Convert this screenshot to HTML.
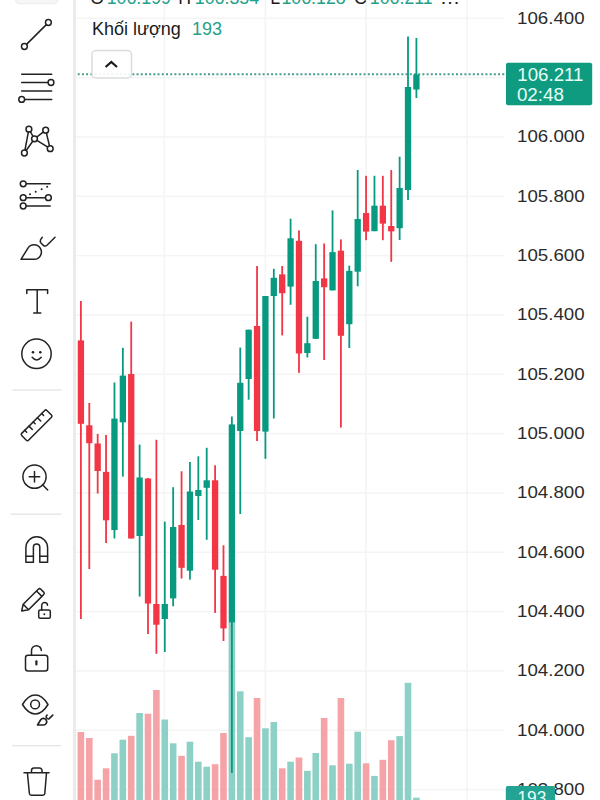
<!DOCTYPE html>
<html><head><meta charset="utf-8">
<style>
html,body{margin:0;padding:0;background:#fff;width:600px;height:800px;overflow:hidden;}
svg{display:block;font-family:"Liberation Sans",sans-serif;}
</style></head><body>
<svg width="600" height="800" viewBox="0 0 600 800">
<rect width="600" height="800" fill="#fff"/>
<g fill="#f4f4f4"><rect x="76" y="17.55" width="428" height="1.5"/><rect x="76" y="76.88" width="428" height="1.5"/><rect x="76" y="136.21" width="428" height="1.5"/><rect x="76" y="195.54" width="428" height="1.5"/><rect x="76" y="254.87" width="428" height="1.5"/><rect x="76" y="314.2" width="428" height="1.5"/><rect x="76" y="373.53" width="428" height="1.5"/><rect x="76" y="432.86" width="428" height="1.5"/><rect x="76" y="492.19" width="428" height="1.5"/><rect x="76" y="551.52" width="428" height="1.5"/><rect x="76" y="610.85" width="428" height="1.5"/><rect x="76" y="670.18" width="428" height="1.5"/><rect x="76" y="729.51" width="428" height="1.5"/><rect x="76" y="788.84" width="428" height="1.5"/><rect x="62.55" y="0" width="1.5" height="800"/><rect x="163.55" y="0" width="1.5" height="800"/><rect x="264.55" y="0" width="1.5" height="800"/><rect x="365.25" y="0" width="1.5" height="800"/><rect x="466.25" y="0" width="1.5" height="800"/></g>
<g><rect x="77.6" y="732" width="6.6" height="68" fill="#f6a3a8"/><rect x="85.99" y="738" width="6.6" height="62" fill="#f6a3a8"/><rect x="94.38" y="779.7" width="6.6" height="20.3" fill="#f6a3a8"/><rect x="102.76" y="768.3" width="6.6" height="31.7" fill="#f6a3a8"/><rect x="111.15" y="753.3" width="6.6" height="46.7" fill="#8dd0c6"/><rect x="119.54" y="739.7" width="6.6" height="60.3" fill="#8dd0c6"/><rect x="127.92" y="735.8" width="6.6" height="64.2" fill="#f6a3a8"/><rect x="136.31" y="713" width="6.6" height="87" fill="#8dd0c6"/><rect x="144.7" y="713.7" width="6.6" height="86.3" fill="#f6a3a8"/><rect x="153.09" y="690" width="6.6" height="110" fill="#f6a3a8"/><rect x="161.47" y="719.5" width="6.6" height="80.5" fill="#8dd0c6"/><rect x="169.86" y="743.3" width="6.6" height="56.7" fill="#8dd0c6"/><rect x="178.25" y="755.8" width="6.6" height="44.2" fill="#f6a3a8"/><rect x="186.64" y="741.7" width="6.6" height="58.3" fill="#8dd0c6"/><rect x="195.02" y="761.7" width="6.6" height="38.3" fill="#8dd0c6"/><rect x="203.41" y="766.7" width="6.6" height="33.3" fill="#8dd0c6"/><rect x="211.8" y="764.2" width="6.6" height="35.8" fill="#f6a3a8"/><rect x="220.19" y="733" width="6.6" height="67" fill="#f6a3a8"/><rect x="228.57" y="622" width="6.6" height="178" fill="#8dd0c6"/><rect x="236.96" y="691.3" width="6.6" height="108.7" fill="#8dd0c6"/><rect x="245.35" y="737.2" width="6.6" height="62.8" fill="#8dd0c6"/><rect x="253.74" y="698" width="6.6" height="102" fill="#f6a3a8"/><rect x="262.12" y="728.3" width="6.6" height="71.7" fill="#8dd0c6"/><rect x="270.51" y="722" width="6.6" height="78" fill="#8dd0c6"/><rect x="278.9" y="768.3" width="6.6" height="31.7" fill="#f6a3a8"/><rect x="287.29" y="761.7" width="6.6" height="38.3" fill="#8dd0c6"/><rect x="295.68" y="757.5" width="6.6" height="42.5" fill="#f6a3a8"/><rect x="304.06" y="770.8" width="6.6" height="29.2" fill="#8dd0c6"/><rect x="312.45" y="753" width="6.6" height="47" fill="#8dd0c6"/><rect x="320.84" y="718" width="6.6" height="82" fill="#f6a3a8"/><rect x="329.22" y="765.3" width="6.6" height="34.7" fill="#8dd0c6"/><rect x="337.61" y="698" width="6.6" height="102" fill="#f6a3a8"/><rect x="346" y="763.7" width="6.6" height="36.3" fill="#8dd0c6"/><rect x="354.39" y="731.7" width="6.6" height="68.3" fill="#8dd0c6"/><rect x="362.77" y="763.3" width="6.6" height="36.7" fill="#f6a3a8"/><rect x="371.16" y="775.9" width="6.6" height="24.1" fill="#8dd0c6"/><rect x="379.55" y="759.8" width="6.6" height="40.2" fill="#f6a3a8"/><rect x="387.94" y="740.2" width="6.6" height="59.8" fill="#f6a3a8"/><rect x="396.32" y="736.1" width="6.6" height="63.9" fill="#8dd0c6"/><rect x="404.71" y="682.8" width="6.6" height="117.2" fill="#8dd0c6"/><rect x="413.1" y="797.7" width="6.6" height="2.3" fill="#8dd0c6"/></g>
<line x1="77.7" y1="74.3" x2="505" y2="74.3" stroke="#4a9d8c" stroke-width="2" stroke-dasharray="2 2.2035"/>
<g><rect x="80" y="301" width="1.8" height="318" fill="#f23645"/><rect x="77.75" y="340.4" width="6.3" height="83.4" fill="#f23645"/><rect x="88.39" y="403" width="1.8" height="166" fill="#f23645"/><rect x="86.14" y="425.3" width="6.3" height="17.9" fill="#f23645"/><rect x="96.78" y="434" width="1.8" height="59.5" fill="#f23645"/><rect x="94.53" y="443.5" width="6.3" height="27.5" fill="#f23645"/><rect x="105.16" y="435" width="1.8" height="108" fill="#f23645"/><rect x="102.91" y="471.9" width="6.3" height="48.4" fill="#f23645"/><rect x="113.55" y="382.5" width="1.8" height="156" fill="#089981"/><rect x="111.3" y="418.6" width="6.3" height="111.4" fill="#089981"/><rect x="121.94" y="347.8" width="1.8" height="128.8" fill="#089981"/><rect x="119.69" y="375.6" width="6.3" height="46.7" fill="#089981"/><rect x="130.32" y="321.6" width="1.8" height="216.9" fill="#f23645"/><rect x="128.07" y="374" width="6.3" height="164.5" fill="#f23645"/><rect x="138.71" y="444.6" width="1.8" height="152" fill="#089981"/><rect x="136.46" y="477.5" width="6.3" height="58.5" fill="#089981"/><rect x="147.1" y="478" width="1.8" height="156" fill="#f23645"/><rect x="144.85" y="478.5" width="6.3" height="125" fill="#f23645"/><rect x="155.49" y="439.8" width="1.8" height="214" fill="#f23645"/><rect x="153.24" y="604" width="6.3" height="20.7" fill="#f23645"/><rect x="163.88" y="521.6" width="1.8" height="130.4" fill="#089981"/><rect x="161.62" y="604" width="6.3" height="15" fill="#089981"/><rect x="172.26" y="487.2" width="1.8" height="119.1" fill="#089981"/><rect x="170.01" y="527" width="6.3" height="71.4" fill="#089981"/><rect x="180.65" y="471.3" width="1.8" height="107.2" fill="#f23645"/><rect x="178.4" y="525" width="6.3" height="42.8" fill="#f23645"/><rect x="189.04" y="462" width="1.8" height="117.7" fill="#089981"/><rect x="186.79" y="491.5" width="6.3" height="79.2" fill="#089981"/><rect x="197.42" y="456.3" width="1.8" height="63.7" fill="#089981"/><rect x="195.17" y="490" width="6.3" height="6" fill="#089981"/><rect x="205.81" y="447.8" width="1.8" height="92" fill="#089981"/><rect x="203.56" y="480.3" width="6.3" height="7.5" fill="#089981"/><rect x="214.2" y="465.3" width="1.8" height="147.6" fill="#f23645"/><rect x="211.95" y="480.3" width="6.3" height="89.4" fill="#f23645"/><rect x="222.59" y="545.3" width="1.8" height="95.7" fill="#f23645"/><rect x="220.34" y="575.9" width="6.3" height="52.5" fill="#f23645"/><rect x="230.97" y="416.5" width="1.8" height="356.5" fill="#089981"/><rect x="228.72" y="424.4" width="6.3" height="197.9" fill="#089981"/><rect x="239.36" y="347.6" width="1.8" height="166.4" fill="#089981"/><rect x="237.11" y="382.8" width="6.3" height="48.2" fill="#089981"/><rect x="247.75" y="329.7" width="1.8" height="70" fill="#089981"/><rect x="245.5" y="329.7" width="6.3" height="49.3" fill="#089981"/><rect x="256.14" y="266" width="1.8" height="175" fill="#f23645"/><rect x="253.89" y="326" width="6.3" height="105" fill="#f23645"/><rect x="264.52" y="296" width="1.8" height="162.8" fill="#089981"/><rect x="262.27" y="296" width="6.3" height="135.6" fill="#089981"/><rect x="272.91" y="268.8" width="1.8" height="149.7" fill="#089981"/><rect x="270.66" y="277.8" width="6.3" height="18.2" fill="#089981"/><rect x="281.3" y="266" width="1.8" height="69.4" fill="#f23645"/><rect x="279.05" y="274.4" width="6.3" height="18.8" fill="#f23645"/><rect x="289.69" y="218.7" width="1.8" height="86.1" fill="#089981"/><rect x="287.44" y="238.3" width="6.3" height="48.3" fill="#089981"/><rect x="298.08" y="230.4" width="1.8" height="142.5" fill="#f23645"/><rect x="295.83" y="240.8" width="6.3" height="112.7" fill="#f23645"/><rect x="306.46" y="316.7" width="1.8" height="40.8" fill="#089981"/><rect x="304.21" y="343.2" width="6.3" height="9.8" fill="#089981"/><rect x="314.85" y="244.2" width="1.8" height="94.6" fill="#089981"/><rect x="312.6" y="281" width="6.3" height="57.8" fill="#089981"/><rect x="323.24" y="243.5" width="1.8" height="116.5" fill="#f23645"/><rect x="320.99" y="278.4" width="6.3" height="8.8" fill="#f23645"/><rect x="331.62" y="210.4" width="1.8" height="80" fill="#089981"/><rect x="329.38" y="252.1" width="6.3" height="38.3" fill="#089981"/><rect x="340.01" y="239.4" width="1.8" height="188.2" fill="#f23645"/><rect x="337.76" y="250.7" width="6.3" height="85.1" fill="#f23645"/><rect x="348.4" y="265.7" width="1.8" height="82.3" fill="#089981"/><rect x="346.15" y="270.9" width="6.3" height="53.3" fill="#089981"/><rect x="356.79" y="170" width="1.8" height="116.3" fill="#089981"/><rect x="354.54" y="219" width="6.3" height="52.7" fill="#089981"/><rect x="365.17" y="175.8" width="1.8" height="64.4" fill="#f23645"/><rect x="362.92" y="213" width="6.3" height="18.6" fill="#f23645"/><rect x="373.56" y="175.8" width="1.8" height="55.4" fill="#089981"/><rect x="371.31" y="205.7" width="6.3" height="25.5" fill="#089981"/><rect x="381.95" y="175.8" width="1.8" height="64.4" fill="#f23645"/><rect x="379.7" y="205.7" width="6.3" height="17.9" fill="#f23645"/><rect x="390.34" y="170" width="1.8" height="91.8" fill="#f23645"/><rect x="388.09" y="226" width="6.3" height="5.4" fill="#f23645"/><rect x="398.73" y="156.7" width="1.8" height="83.3" fill="#089981"/><rect x="396.48" y="188" width="6.3" height="40.2" fill="#089981"/><rect x="407.11" y="36.5" width="1.8" height="163.5" fill="#089981"/><rect x="404.86" y="87" width="6.3" height="103" fill="#089981"/><rect x="415.5" y="38" width="1.8" height="60" fill="#089981"/><rect x="413.25" y="74.5" width="6.3" height="15" fill="#089981"/></g>
<!-- toolbar -->
<rect x="0" y="0" width="73" height="800" fill="#fff"/>
<rect x="73" y="0" width="3" height="800" fill="#ebebeb"/>
<rect x="15.5" y="-20" width="42.5" height="23.8" rx="4" fill="#f6f6f6" stroke="#ececec" stroke-width="1"/>
<g fill="none" stroke="#222" stroke-width="1.5" stroke-linecap="round" stroke-linejoin="round">
 <!-- trend line -->
 <line x1="26.5" y1="44.4" x2="46.3" y2="24.6"/>
 <circle cx="24.4" cy="46.5" r="2.9" fill="#fff"/>
 <circle cx="48.4" cy="22.5" r="2.9" fill="#fff"/>
 <!-- lines -->
 <line x1="21.7" y1="74.2" x2="51.7" y2="74.2"/>
 <line x1="21.7" y1="82.5" x2="48" y2="82.5"/>
 <line x1="21.7" y1="91" x2="51.7" y2="91"/>
 <line x1="24.6" y1="99.4" x2="51.7" y2="99.4"/>
 <circle cx="51" cy="82.5" r="2.9" fill="#fff"/>
 <circle cx="21.7" cy="99.4" r="2.9" fill="#fff"/>
 <!-- xabcd -->
 <polyline points="24.4,153 28.9,129.2 34.5,138.8 24.4,153"/>
 <polyline points="34.5,138.8 45.7,130.2 50.2,148.7 34.5,138.8"/>
 <circle cx="28.9" cy="129.2" r="2.9" fill="#fff"/>
 <circle cx="45.7" cy="130.2" r="2.9" fill="#fff"/>
 <circle cx="34.5" cy="138.8" r="2.9" fill="#fff"/>
 <circle cx="50.2" cy="148.7" r="2.9" fill="#fff"/>
 <circle cx="24.4" cy="153" r="2.9" fill="#fff"/>
 <!-- fib -->
 <line x1="26" y1="183.8" x2="50.2" y2="183.8"/>
 <line x1="26" y1="197.7" x2="45.5" y2="197.7"/>
 <line x1="26" y1="206" x2="50.2" y2="206"/>
 <circle cx="23.2" cy="183.8" r="2.9" fill="#fff"/>
 <circle cx="23.2" cy="197.7" r="2.9" fill="#fff"/>
 <circle cx="48.4" cy="197.7" r="2.9" fill="#fff"/>
 <circle cx="23.2" cy="206" r="2.9" fill="#fff"/>
 <!-- brush -->
 <path d="M21,259.3 L34.3,259.3 A7.3,7.3 0 1 0 27.8,248.3 Z"/>
 <path d="M42.3,237.3 L40.6,239.6 Q39.6,241.6 41.2,243.3 L43.4,245.4 Q45.2,246.8 47,245.2 L55,237.3"/>
 <!-- T -->
 <path d="M26.8,293.5 V289.8 H47.6 V293.5 M37.2,289.8 V313 M33.7,313 H40.8"/>
 <!-- smiley -->
 <circle cx="36.5" cy="353.8" r="14.7"/>
 <path d="M32.2,357.3 Q36.7,362.8 41.2,357.3"/>
 <!-- ruler -->
 <g transform="translate(36.6,425.3) rotate(-45)">
  <rect x="-17.75" y="-4.8" width="35.5" height="9.6" rx="1.5"/>
  <path d="M-11.9,-4.8 V-2.1 M-5.95,-4.8 V-0.1 M0,-4.8 V-2.1 M5.95,-4.8 V-0.1 M11.9,-4.8 V-2.1"/>
 </g>
 <!-- zoom -->
 <circle cx="34.5" cy="476.7" r="11.6"/>
 <path d="M29.2,476.7 H39.7 M34.5,471.5 V482 M43,485.2 L47.7,490"/>
 <!-- magnet -->
 <path d="M25.9,562.2 V547.6 A10.85,10.85 0 0 1 47.6,547.6 V562.2 H39.8 V547.1 A3.2,3.2 0 0 0 33.4,547.1 V562.2 Z"/>
 <path d="M25.9,556.3 H33.4 M39.8,556.3 H47.6"/>
 <!-- pencil -->
 <path d="M23.2,604.2 L21.7,611 L28.6,609.8 M23.2,604.2 L36.5,591 L38.3,589.2 A1.8,1.8 0 0 1 40.8,589.2 L43.7,592.1 A1.8,1.8 0 0 1 43.7,594.6 L41.9,596.4 L28.6,609.8 Z M36.5,591 L41.9,596.4"/>
 <rect x="38.7" y="610" width="11.6" height="8.3" rx="1.5"/>
 <path d="M41.7,610 V605.5 A2.9,2.9 0 0 1 47.5,605.3"/>
 <!-- unlock -->
 <rect x="25.5" y="655.2" width="22.2" height="15.8" rx="2.5"/>
 <path d="M31.5,655.2 V650.5 A4.9,4.9 0 0 1 41.3,650.6"/>
 <path d="M36.4,661.3 V664.5" stroke-width="2.2"/>
 <!-- eye -->
 <path d="M22.5,704.5 C27,697 31,695 35.3,695 C39.5,695 43.5,697 48,704.5 C43.5,712 39.5,714 35.3,714 C31,714 27,712 22.5,704.5 Z"/>
 <circle cx="35.1" cy="704.4" r="4.4"/>
 <g transform="translate(28.05,608.3) scale(0.45)" stroke-width="3.6">
  <path d="M21,259.3 L34.3,259.3 A7.3,7.3 0 1 0 27.8,248.3 Z"/>
  <path d="M42.3,237.3 L40.6,239.6 Q39.6,241.6 41.2,243.3 L43.4,245.4 Q45.2,246.8 47,245.2 L55,237.3"/>
 </g>
 <!-- trash -->
 <path d="M24,772.7 H49.1 M27.4,772.7 L29.4,793.5 Q29.6,795.3 31.4,795.3 H42.8 Q44.6,795.3 44.8,793.5 L46.5,772.7 M31.5,772.7 V770.5 A2.5,2.5 0 0 1 34,768 H39.5 A2.5,2.5 0 0 1 42,770.5 V772.7"/>
</g>
<g fill="#1f1f1f">
 <circle cx="33" cy="352.2" r="1.3"/>
 <circle cx="40.3" cy="352.2" r="1.3"/>
 <circle cx="30" cy="194.3" r="1"/>
 <circle cx="35.7" cy="191.8" r="1"/>
 <circle cx="41.6" cy="189.3" r="1"/>
 <circle cx="47.2" cy="186.8" r="1"/>
 <circle cx="44.3" cy="614.3" r="1"/>
</g>
<g fill="#e6e6e6">
 <rect x="12.5" y="389.3" width="49" height="1.4"/>
 <rect x="10.5" y="513.5" width="51" height="1.4"/>
 <rect x="12" y="745" width="49" height="1.4"/>
</g>
<!-- header legend -->
<g font-size="17.8" fill="#1a1a1a">
 <text x="90.2" y="4.3">O</text><text x="106.7" y="4.3" fill="#23a08a">106.199</text>
 <text x="178.3" y="4.3">H</text><text x="194.8" y="4.3" fill="#23a08a">106.354</text>
 <text x="270.3" y="4.3">L</text><text x="281.4" y="4.3" fill="#23a08a">106.128</text>
 <text x="354.1" y="4.3">C</text><text x="369.8" y="4.3" fill="#23a08a">106.211</text>
 <text x="439.7" y="4.3" textLength="20.5" lengthAdjust="spacingAndGlyphs">…</text>
</g>
<g font-size="18" fill="#1a1a1a">
 <text x="91.9" y="34.5">Khối lượng</text>
 <text x="192" y="34.5" fill="#23a08a">193</text>
</g>
<rect x="92" y="50.5" width="39.5" height="27.5" rx="4" fill="#fff" fill-opacity="0.9" stroke="#dcdcdc" stroke-width="1.5"/>
<path d="M105.6,67 L111.3,62 L117,67" fill="none" stroke="#1a1a1a" stroke-width="2.2"/>
<!-- price axis -->
<g font-size="16.3" fill="#2b2b2b"><text x="517.0" y="23.6" textLength="67.6" lengthAdjust="spacingAndGlyphs">106.400</text><text x="517.0" y="142.26" textLength="67.6" lengthAdjust="spacingAndGlyphs">106.000</text><text x="517.0" y="201.59" textLength="67.6" lengthAdjust="spacingAndGlyphs">105.800</text><text x="517.0" y="260.92" textLength="67.6" lengthAdjust="spacingAndGlyphs">105.600</text><text x="517.0" y="320.25" textLength="67.6" lengthAdjust="spacingAndGlyphs">105.400</text><text x="517.0" y="379.58" textLength="67.6" lengthAdjust="spacingAndGlyphs">105.200</text><text x="517.0" y="438.91" textLength="67.6" lengthAdjust="spacingAndGlyphs">105.000</text><text x="517.0" y="498.24" textLength="67.6" lengthAdjust="spacingAndGlyphs">104.800</text><text x="517.0" y="557.57" textLength="67.6" lengthAdjust="spacingAndGlyphs">104.600</text><text x="517.0" y="616.9" textLength="67.6" lengthAdjust="spacingAndGlyphs">104.400</text><text x="517.0" y="676.23" textLength="67.6" lengthAdjust="spacingAndGlyphs">104.200</text><text x="517.0" y="735.56" textLength="67.6" lengthAdjust="spacingAndGlyphs">104.000</text><text x="517.0" y="794.89" textLength="67.6" lengthAdjust="spacingAndGlyphs">103.800</text></g>
<rect x="506" y="62.8" width="86.2" height="42.4" rx="2" fill="#0e9b80"/>
<g font-size="17.5" fill="#e8fff8">
 <text x="517.3" y="80.9" textLength="66.2" lengthAdjust="spacingAndGlyphs">106.211</text>
 <text x="516.9" y="100.9" textLength="47" lengthAdjust="spacingAndGlyphs">02:48</text>
</g>
<rect x="505.8" y="786" width="49.3" height="20" rx="2" fill="#22a394"/>
<text x="517.5" y="804" font-size="18" fill="#e8fff8" textLength="28.8" lengthAdjust="spacingAndGlyphs">193</text>
</svg>
</body></html>
